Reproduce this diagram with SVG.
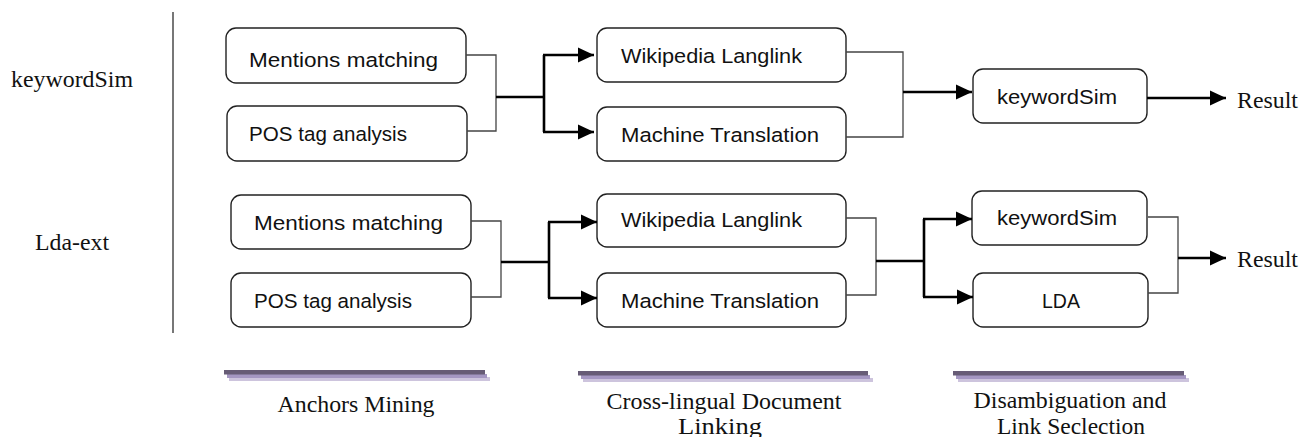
<svg xmlns="http://www.w3.org/2000/svg" width="1302" height="437" viewBox="0 0 1302 437">
<style>
.box{fill:#fff;stroke:#222;stroke-width:1.4}
.nt{font-family:"Liberation Sans",Arial,sans-serif;font-size:20.5px;fill:#111}
.st{font-family:"Liberation Serif","Times New Roman",serif;font-size:23.5px;fill:#111}
.thin{fill:none;stroke:#444;stroke-width:1.3}
.thick{fill:none;stroke:#000;stroke-width:2.6}
</style>
<defs>
<marker id="ah" markerUnits="userSpaceOnUse" markerWidth="18" markerHeight="18" refX="16" refY="8" orient="auto">
<path d="M0,0.5 L16,8 L0,15.5 Z" fill="#000"/>
</marker>
</defs>
<g id="labels">
<text class="st" x="11" y="87" textLength="122" lengthAdjust="spacingAndGlyphs">keywordSim</text>
<text class="st" x="35" y="250" textLength="74" lengthAdjust="spacingAndGlyphs">Lda-ext</text>
<line x1="173" y1="12" x2="173" y2="333" stroke="#777" stroke-width="2"/>
</g>
<g id="row1-mentions"><rect class="box" x="226" y="28" width="240" height="55" rx="10"/><text class="nt" x="249" y="67" textLength="189" lengthAdjust="spacingAndGlyphs">Mentions matching</text></g>
<g id="row1-pos"><rect class="box" x="227" y="106" width="240" height="55" rx="10"/><text class="nt" x="249" y="141" textLength="158" lengthAdjust="spacingAndGlyphs">POS tag analysis</text></g>
<g id="row1-wiki"><rect class="box" x="597" y="28" width="249" height="54" rx="10"/><text class="nt" x="621" y="63" textLength="181" lengthAdjust="spacingAndGlyphs">Wikipedia Langlink</text></g>
<g id="row1-mt"><rect class="box" x="597" y="107" width="249" height="54" rx="10"/><text class="nt" x="621" y="142" textLength="198" lengthAdjust="spacingAndGlyphs">Machine Translation</text></g>
<g id="row1-kw"><rect class="box" x="973" y="69" width="174" height="54" rx="10"/><text class="nt" x="997" y="104" textLength="120" lengthAdjust="spacingAndGlyphs">keywordSim</text></g>
<g id="row1-result"><text class="st" x="1237" y="108" textLength="61" lengthAdjust="spacingAndGlyphs">Result</text></g>

<g id="row2-mentions"><rect class="box" x="231" y="195" width="240" height="54" rx="10"/><text class="nt" x="254" y="230" textLength="189" lengthAdjust="spacingAndGlyphs">Mentions matching</text></g>
<g id="row2-pos"><rect class="box" x="231" y="273" width="240" height="54" rx="10"/><text class="nt" x="254" y="308" textLength="158" lengthAdjust="spacingAndGlyphs">POS tag analysis</text></g>
<g id="row2-wiki"><rect class="box" x="597" y="194" width="249" height="53" rx="10"/><text class="nt" x="621" y="227" textLength="181" lengthAdjust="spacingAndGlyphs">Wikipedia Langlink</text></g>
<g id="row2-mt"><rect class="box" x="597" y="273" width="249" height="54" rx="10"/><text class="nt" x="621" y="308" textLength="198" lengthAdjust="spacingAndGlyphs">Machine Translation</text></g>
<g id="row2-kw"><rect class="box" x="972" y="191" width="175" height="54" rx="10"/><text class="nt" x="997" y="225" textLength="120" lengthAdjust="spacingAndGlyphs">keywordSim</text></g>
<g id="row2-lda"><rect class="box" x="973" y="273" width="175" height="54" rx="10"/><text class="nt" x="1042" y="308" textLength="38" lengthAdjust="spacingAndGlyphs">LDA</text></g>
<g id="row2-result"><text class="st" x="1237" y="267" textLength="61" lengthAdjust="spacingAndGlyphs">Result</text></g>

<g id="connectors">
<path class="thin" d="M466,55 H496 V131 H467"/>
<path class="thick" d="M496,97 H544"/>
<path class="thick" d="M544,55 V132"/>
<path class="thick" d="M543,55 H594" marker-end="url(#ah)"/>
<path class="thick" d="M543,132 H594" marker-end="url(#ah)"/>
<path class="thin" d="M846,52 H903 V137 H846"/>
<path class="thick" d="M903,92 H972" marker-end="url(#ah)"/>
<path class="thick" d="M1147,98 H1226" marker-end="url(#ah)"/>

<path class="thin" d="M471,221 H501 V297 H471"/>
<path class="thick" d="M501,262 H549"/>
<path class="thick" d="M549,222 V298"/>
<path class="thick" d="M548,222 H597" marker-end="url(#ah)"/>
<path class="thick" d="M548,298 H597" marker-end="url(#ah)"/>
<path class="thin" d="M846,218 H876 V295 H846"/>
<path class="thick" d="M876,261 H924"/>
<path class="thick" d="M924,219 V297"/>
<path class="thick" d="M923,219 H972" marker-end="url(#ah)"/>
<path class="thick" d="M923,297 H973" marker-end="url(#ah)"/>
<path class="thin" d="M1148,217 H1178 V293 H1148"/>
<path class="thick" d="M1178,258 H1226" marker-end="url(#ah)"/>
</g>

<g id="stage-anchors">
<rect x="229" y="377" width="261" height="4" fill="#cdc4dd"/>
<rect x="227" y="374" width="260" height="4" fill="#a597c2"/>
<rect x="224" y="370" width="261" height="4.5" fill="#675c76"/>
<text class="st" x="356" y="412" text-anchor="middle" textLength="157" lengthAdjust="spacingAndGlyphs">Anchors Mining</text>
</g>
<g id="stage-crosslingual">
<rect x="583" y="378" width="290" height="4" fill="#cdc4dd"/>
<rect x="581" y="375" width="289" height="4" fill="#a597c2"/>
<rect x="578" y="371" width="290" height="4.5" fill="#675c76"/>
<text class="st" x="724" y="409" text-anchor="middle" textLength="235" lengthAdjust="spacingAndGlyphs">Cross-lingual Document</text>
<text class="st" x="720" y="434" text-anchor="middle" textLength="84" lengthAdjust="spacingAndGlyphs">Linking</text>
</g>
<g id="stage-disambiguation">
<rect x="958" y="378" width="231" height="4" fill="#cdc4dd"/>
<rect x="956" y="375" width="230" height="4" fill="#a597c2"/>
<rect x="953" y="371" width="231" height="4.5" fill="#675c76"/>
<text class="st" x="1070" y="408" text-anchor="middle" textLength="193" lengthAdjust="spacingAndGlyphs">Disambiguation and</text>
<text class="st" x="1071" y="434" text-anchor="middle" textLength="148" lengthAdjust="spacingAndGlyphs">Link Seclection</text>
</g>
</svg>
